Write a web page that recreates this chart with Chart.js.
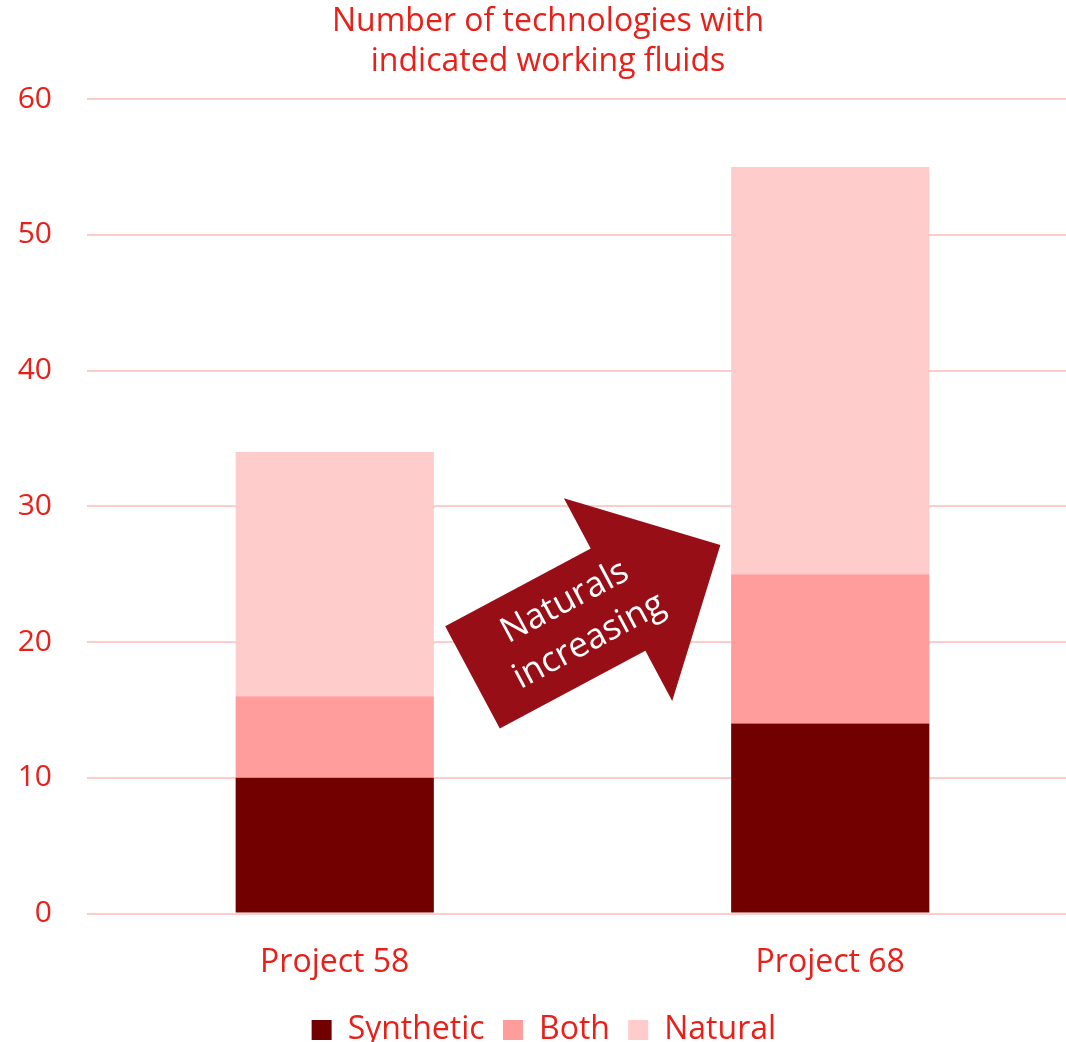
<!DOCTYPE html>
<html>
<head>
<meta charset="utf-8">
<script src="https://cdn.jsdelivr.net/npm/chart.js@4/dist/chart.umd.min.js"></script>
<style>
  html, body { margin: 0; padding: 0; background: #fff; overflow: hidden; }
  #wrap { width: 1078px; height: 1042px; }
</style>
</head>
<body>
<div id="wrap"><canvas id="chart"></canvas></div>
<script>
// Data
const categories = ['Project 58', 'Project 68'];
const synthetic = [10, 14];
const both = [6, 11];
const natural = [18, 30];
const titleLines = ['Number of technologies with', 'indicated working fluids'];
const arrowLines = ['Naturals', 'increasing'];

const RED_TEXT = '#E8201A';
const FONT = "'Open Sans', 'Noto Sans', sans-serif";

// Draws the "Naturals increasing" arrow between the two bars
const arrowPlugin = {
  id: 'arrow',
  afterDatasetsDraw(chart) {
    const { ctx, scales } = chart;
    const x = scales.x.getPixelForValue(0.5) - 110;   // tail middle
    const y = scales.y.getPixelForValue(17.4);
    const ang = -28.1 * Math.PI / 180;
    ctx.save();
    ctx.translate(x, y);
    ctx.rotate(ang);
    ctx.beginPath();
    ctx.moveTo(0, -58);
    ctx.lineTo(165, -58);
    ctx.lineTo(165, -115);
    ctx.lineTo(281, 0);
    ctx.lineTo(165, 115);
    ctx.lineTo(165, 58);
    ctx.lineTo(0, 58);
    ctx.closePath();
    ctx.fillStyle = '#980E16';
    ctx.fill();
    ctx.fillStyle = '#fff';
    ctx.font = '35px ' + FONT;
    ctx.textAlign = 'center';
    ctx.textBaseline = 'middle';
    ctx.fillText(arrowLines[0], 117, -23);
    ctx.fillText(arrowLines[1], 120, 23);
    ctx.restore();
  }
};

new Chart(document.getElementById('chart'), {
  type: 'bar',
  data: {
    labels: categories,
    datasets: [
      { label: 'Synthetic', data: synthetic, backgroundColor: '#730000' },
      { label: 'Both', data: both, backgroundColor: '#FF9C9C' },
      { label: 'Natural', data: natural, backgroundColor: '#FFCCCC' }
    ]
  },
  options: {
    responsive: true,
    maintainAspectRatio: false,
    animation: false,
    layout: { padding: { left: 18, right: 0, top: 2, bottom: -14 } },
    datasets: { bar: { categoryPercentage: 1, barPercentage: 0.4 } },
    scales: {
      x: {
        stacked: true,
        grid: { display: false },
        border: { display: false },
        ticks: { color: RED_TEXT, font: { family: FONT, size: 32 }, padding: 22 }
      },
      y: {
        stacked: true,
        min: 0,
        max: 60,
        ticks: { stepSize: 10, color: RED_TEXT, font: { family: FONT, size: 30 }, padding: 35 },
        grid: { color: '#FFCCCC', lineWidth: 2, drawTicks: false },
        border: { display: false },
        afterFit(scale) { scale.width = 69; }
      }
    },
    plugins: {
      title: {
        display: true,
        text: titleLines,
        color: RED_TEXT,
        font: { family: FONT, size: 32, weight: 'normal', lineHeight: 1.25 },
        padding: { top: 0, bottom: 17 }
      },
      legend: {
        position: 'bottom',
        labels: {
          color: RED_TEXT,
          font: { family: FONT, size: 32 },
          boxWidth: 20,
          boxHeight: 20,
          padding: 10,
          // trailing space widens the gap between legend items a little
          generateLabels(chart) {
            return Chart.defaults.plugins.legend.labels.generateLabels(chart)
              .map(l => Object.assign(l, { text: l.text + ' ' }));
          }
        }
      },
      tooltip: { enabled: false }
    }
  },
  plugins: [arrowPlugin]
});
</script>
</body>
</html>
